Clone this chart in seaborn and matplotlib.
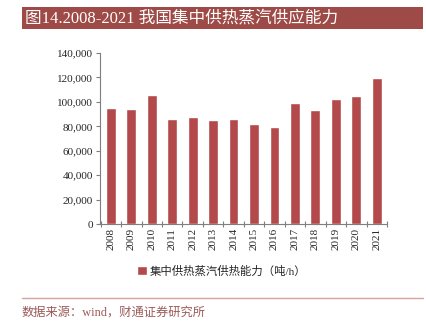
import matplotlib
matplotlib.use("Agg")
import matplotlib.pyplot as plt
import seaborn as sns
import numpy as np
import pandas as pd
from matplotlib.patches import Rectangle
from matplotlib.lines import Line2D
from matplotlib.ticker import FuncFormatter

years = ["2008", "2009", "2010", "2011", "2012", "2013", "2014",
         "2015", "2016", "2017", "2018", "2019", "2020", "2021"]
values = [95200, 94100, 106000, 86200, 87300, 85400, 85700,
          81600, 79100, 99300, 93100, 102100, 104500, 119800]
series_name = "集中供热蒸汽供热能力（吨/h）"
title = "图14.2008-2021 我国集中供热蒸汽供应能力"
source = "数据来源：wind，财通证券研究所"

sns.set_style("white")
plt.rcParams['font.family'] = ['Liberation Serif', 'Noto Sans CJK SC', 'DejaVu Sans']

W, H = 427, 326
fig = plt.figure(figsize=(W / 100, H / 100), dpi=100)
ax = fig.add_axes([100 / W, 1 - 224 / H, 287 / W, (224 - 53) / H])

df = pd.DataFrame({"year": years, "value": values})
bar_color = "#B3494A"
sns.barplot(data=df, x="year", y="value", color=bar_color, width=0.48,
            saturation=1, ax=ax, label=series_name)

ax.set_ylim(0, 140000)
ax.set_xlim(-0.53, 13.5)
ax.set_yticks(np.arange(0, 140001, 20000))
ax.yaxis.set_major_formatter(FuncFormatter(lambda v, p: f"{int(v):,}"))
ax.set_xlabel("")
ax.set_ylabel("")
for s in ["top", "right"]:
    ax.spines[s].set_visible(False)
for s in ["left", "bottom"]:
    ax.spines[s].set_color("#7f7f7f")
    ax.spines[s].set_linewidth(0.8)

ax.tick_params(axis="y", direction="out", length=3, width=0.8, color="#7f7f7f",
               labelsize=8, pad=2, left=True)
ax.tick_params(axis="x", which="major", length=0, labelsize=8, pad=3,
               labelrotation=90)
ax.set_xticks(np.arange(-0.5, 14, 1), minor=True)
ax.tick_params(axis="x", which="minor", direction="inout", length=4, width=0.8,
               color="#7f7f7f", bottom=True)

# title banner
fig.add_artist(Rectangle((22 / W, 1 - 29 / H), 401 / W, 22 / H,
                         transform=fig.transFigure, facecolor="#9E4A47",
                         edgecolor="none"))
fig.text(25 / W, 1 - 18.5 / H, title, color="white", fontsize=12,
         va="center", ha="left")

# legend
handles, labels = ax.get_legend_handles_labels()
if ax.get_legend():
    ax.get_legend().remove()
fig.legend(handles, labels, loc="center", bbox_to_anchor=(222 / W, 1 - 271 / H),
           frameon=False, fontsize=8.2, handlelength=0.8, handleheight=0.8,
           handletextpad=0.3)

# source line and text
fig.add_artist(Line2D([22 / W, 423 / W], [1 - 298 / H, 1 - 298 / H],
                      transform=fig.transFigure, color="#D6A3A3", linewidth=1))
fig.text(22 / W, 1 - 313 / H, source, color="#9B5A58", fontsize=8.8,
         va="center", ha="left")

fig.savefig("out.png", dpi=100)
